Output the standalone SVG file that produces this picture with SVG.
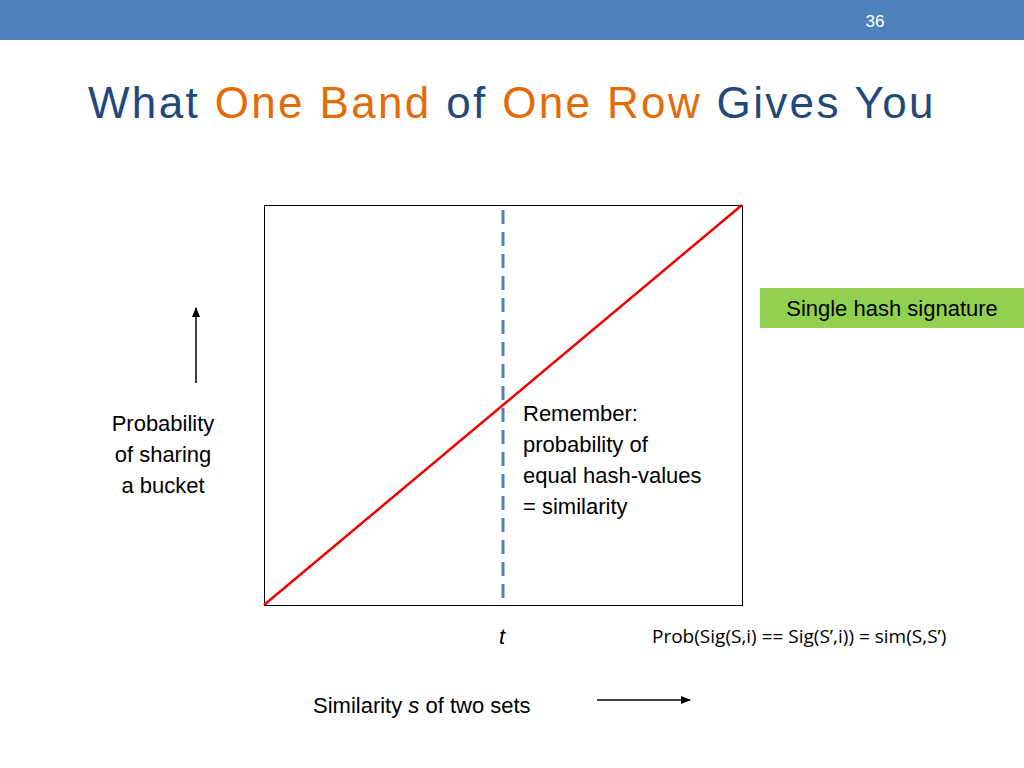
<svg xmlns="http://www.w3.org/2000/svg" width="1024" height="768" viewBox="0 0 1024 768">
<style>
.t{font-family:"Liberation Sans",Arial,sans-serif;font-size:22px;fill:#000}
</style>
<defs>
<marker id="ah" markerWidth="10" markerHeight="8" refX="9" refY="4" orient="auto" markerUnits="userSpaceOnUse"><path d="M0,0 L10,4 L0,8 z" fill="#000"/></marker>
</defs>
<rect width="1024" height="768" fill="#fff"/>
<rect x="0" y="0" width="1024" height="40" fill="#4f81bd"/>
<text x="875" y="27" font-family="Liberation Sans,Arial,sans-serif" font-size="17" fill="#fff" text-anchor="middle">36</text>
<text x="88" y="118" font-family="Liberation Sans,Arial,sans-serif" font-size="44" letter-spacing="-1.5" fill="#1f497d" textLength="844">What <tspan fill="#e36c09">One Band</tspan> of <tspan fill="#e36c09">One Row</tspan> Gives You</text>
<g id="plot">
<rect x="264.5" y="205.5" width="478" height="400" fill="none" stroke="#000" stroke-width="1"/>
<line x1="503" y1="210" x2="503" y2="605" stroke="#4f81bd" stroke-width="3" stroke-dasharray="14,8"/>
<line x1="264" y1="605" x2="742" y2="205" stroke="#e00" stroke-width="2.5"/>
</g>
<g id="signature">
<rect x="760" y="288" width="264" height="40" fill="#92d050"/>
<text class="t" x="892" y="316" text-anchor="middle">Single hash signature</text>
</g>
<g id="connectors">
<line x1="196" y1="383" x2="196" y2="308" stroke="#000" stroke-width="1.5" marker-end="url(#ah)"/>
<line x1="597" y1="700" x2="690" y2="700" stroke="#000" stroke-width="1.5" marker-end="url(#ah)"/>
</g>
<g id="ylabel">
<text class="t" x="163" y="431" text-anchor="middle">Probability</text>
<text class="t" x="163" y="462" text-anchor="middle">of sharing</text>
<text class="t" x="163" y="493" text-anchor="middle">a bucket</text>
</g>
<g id="remember">
<text class="t" x="523" y="421">Remember:</text>
<text class="t" x="523" y="452">probability of</text>
<text class="t" x="523" y="483">equal hash-values</text>
<text class="t" x="523" y="514">= similarity</text>
</g>
<text class="t" x="502" y="644" text-anchor="middle" font-style="italic">t</text>
<text x="652" y="643" font-family="Open Sans,sans-serif" font-size="19" fill="#000">Prob(Sig(S,i) == Sig(S’,i)) = sim(S,S’)</text>
<text class="t" x="313" y="713">Similarity <tspan font-style="italic">s</tspan>  of two sets</text>
</svg>
